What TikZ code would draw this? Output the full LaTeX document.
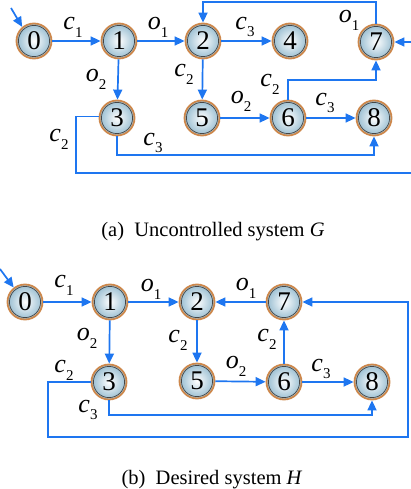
\documentclass[tikz,border=0pt]{standalone}
\usepackage{fontspec}
\setmainfont{Liberation Serif}
\usetikzlibrary{arrows.meta,calc}
\definecolor{arrblue}{RGB}{30,118,240}
\definecolor{ringc}{RGB}{205,135,75}
\definecolor{ballc}{RGB}{150,188,208}
\newcommand{\lab}[2]{\textit{#1}\raisebox{-0.3em}{\fontsize{15}{15}\selectfont #2}}
\tikzset{
  st/.style={circle, minimum size=35pt, inner sep=0pt, draw=ringc, line width=1.8pt,
    shading=radial, inner color=white, outer color=ballc,
    font=\fontsize{27}{27}\selectfont,
    path picture={\draw[gray!55!black, line width=0.7pt] (path picture bounding box.center) circle (15.6pt);}},
  arr/.style={draw=arrblue, line width=1.7pt, -{Triangle[length=10pt,width=9pt]}},
  el/.style={font=\fontsize{26}{26}\selectfont, inner sep=0pt},
  captxt/.style={font=\fontsize{20.5}{20.5}\selectfont, inner sep=0pt}
}
\begin{document}
\begin{tikzpicture}[x=1pt,y=-1pt]
\useasboundingbox (0,0) rectangle (411,489);
% ---------- top: G ----------
\node[st] (a0) at (34,41) {0};
\node[st] (a1) at (119,41) {1};
\node[st] (a2) at (203,41) {2};
\node[st] (a4) at (290,41) {4};
\node[st] (a7) at (376,42) {7};
\node[st] (a3) at (117,118) {3};
\node[st] (a5) at (202,118) {5};
\node[st] (a6) at (288,118) {6};
\node[st] (a8) at (374,118) {8};
\coordinate (ai) at (11,8);
\coordinate (atop) at (0,2);
\coordinate (aleft) at (76,0);
\coordinate (alow) at (0,173);
\coordinate (aright) at (413,0);
\coordinate (amid) at (0,155);
\coordinate (a67) at (0,80);
\draw[arr] (ai) -- (a0.130);
\draw[arr] (a0) -- (a1);
\draw[arr] (a1) -- (a2);
\draw[arr] (a2) -- (a4);
\draw[arr] (a1) -- (a3);
\draw[arr] (a2) -- (a5);
\draw[arr] (a5) -- (a6);
\draw[arr] (a6) -- (a8);
\draw[arr] (a6.north) -- (a6.north |- a67) -| (a7.south);
\draw[arr] (a7.north) -- (a7.north |- atop) -| (a2.north);
\draw[arr] (a3.south) -- (a3.south |- amid) -| (a8.south);
\draw[arr] (a3.175) -- (aleft |- a3.175) -- (aleft |- alow) -- (aright |- alow) -- (aright |- a7.east) -- (a7.east);
\node[el] (la1) at (73,27) {\lab{c}{1}};
\node[el] (la2) at (158,27) {\lab{o}{1}};
\node[el] (la3) at (96,79) {\lab{o}{2}};
\node[el] (la4) at (245,27) {\lab{c}{3}};
\node[el] (la5) at (184,74) {\lab{c}{2}};
\node[el] (la6) at (241,101) {\lab{o}{2}};
\node[el] (la7) at (325,103) {\lab{c}{3}};
\node[el] (la8) at (270,84) {\lab{c}{2}};
\node[el] (la9) at (349,20) {\lab{o}{1}};
\node[el] (la10) at (153,143) {\lab{c}{3}};
\node[el] (la11) at (59,139) {\lab{c}{2}};
\node[captxt] (capa) at (213,232) {(a)\hspace{0.5em}Uncontrolled system \textit{G}};
% ---------- bottom: H ----------
\node[st] (b0) at (25,302) {0};
\node[st] (b1) at (110,302) {1};
\node[st] (b2) at (197,302) {2};
\node[st] (b7) at (284,302) {7};
\node[st] (b3) at (109,382) {3};
\node[st] (b5) at (197,381) {5};
\node[st] (b6) at (284,382) {6};
\node[st] (b8) at (372,382) {8};
\coordinate (bi) at (0,269);
\coordinate (bleft) at (48,0);
\coordinate (blow) at (0,437);
\coordinate (bright) at (408,0);
\coordinate (bmid) at (0,415);
\draw[arr] (bi) -- (b0.128);
\draw[arr] (b0) -- (b1);
\draw[arr] (b1) -- (b2);
\draw[arr] (b7) -- (b2);
\draw[arr] (b1) -- (b3);
\draw[arr] (b2) -- (b5);
\draw[arr] (b5) -- (b6);
\draw[arr] (b6) -- (b7);
\draw[arr] (b6) -- (b8);
\draw[arr] (b3.south) -- (b3.south |- bmid) -| (b8.south);
\draw[arr] (b3.west) -- (bleft |- b3.west) -- (bleft |- blow) -- (bright |- blow) -- (bright |- b7.east) -- (b7.east);
\node[el] (lb1) at (64,285) {\lab{c}{1}};
\node[el] (lb2) at (151,289) {\lab{o}{1}};
\node[el] (lb3) at (87,338) {\lab{o}{2}};
\node[el] (lb4) at (178,340) {\lab{c}{2}};
\node[el] (lb5) at (246,288) {\lab{o}{1}};
\node[el] (lb6) at (267,339) {\lab{c}{2}};
\node[el] (lb7) at (236,366) {\lab{o}{2}};
\node[el] (lb8) at (321,369) {\lab{c}{3}};
\node[el] (lb9) at (88,410) {\lab{c}{3}};
\node[el] (lb10) at (64,370) {\lab{c}{2}};
\node[captxt] (capb) at (212,480) {(b)\hspace{0.5em}Desired system \textit{H}};
\end{tikzpicture}
\end{document}
